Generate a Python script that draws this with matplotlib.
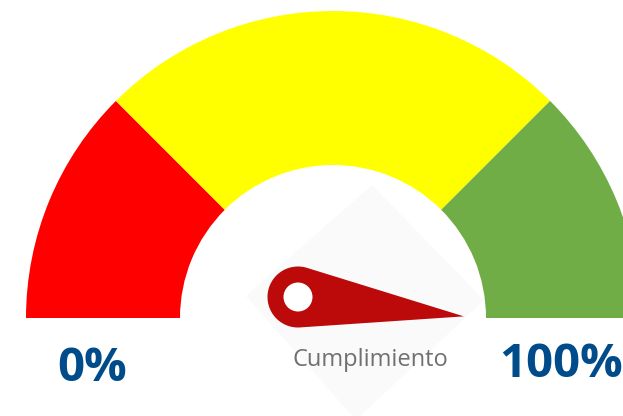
import numpy as np
import matplotlib.pyplot as plt
from matplotlib.patches import Wedge, Polygon, Circle

# gauge bands (percent of the half circle) and their colours
band_limits = [0, 25, 75, 100]
band_colors = ['#FF0000', '#FFFF00', '#70AD47']
needle_value = 103.7
min_label = '0%'
max_label = '100%'
caption = 'Cumplimiento'

W, H = 623, 416
fig = plt.figure(figsize=(W / 100, H / 100), dpi=100)
ax = fig.add_axes([0, 0, 1, 1])
ax.set_xlim(0, W)
ax.set_ylim(0, H)
ax.axis('off')

# pixel coords with y going up
cx, cy = 333, H - 318
r_out, r_in = 307, 153

def val2ang(v):
    return 180 - v / 100 * 180

# faint diamond watermark behind the needle
diamond = Polygon([(372, H - 185), (484, H - 300), (356, H - 420), (246, H - 296)],
                  closed=True, facecolor='#fafafa', edgecolor='none', zorder=0)
ax.add_patch(diamond)

for i in range(len(band_colors)):
    a1 = val2ang(band_limits[i + 1])
    a2 = val2ang(band_limits[i])
    ax.add_patch(Wedge((cx, cy), r_out, a1, a2, width=r_out - r_in,
                       facecolor=band_colors[i], edgecolor='none', zorder=1))

# needle: round base with a hole, tapering to a point
px, py = 298, H - 297
base_r, hole_r, length = 30.5, 14.5, 167
phi = np.deg2rad(val2ang(needle_value))
t = np.arccos(base_r / length)
arc = np.linspace(phi + t, phi + 2 * np.pi - t, 80)
pts = [(px + base_r * np.cos(a), py + base_r * np.sin(a)) for a in arc]
pts.append((px + length * np.cos(phi), py + length * np.sin(phi)))
ax.add_patch(Polygon(pts, closed=True, facecolor='#BC0909', edgecolor='none', zorder=3))
ax.add_patch(Circle((px, py), hole_r, facecolor='white', edgecolor='none', zorder=4))

ax.text(370, H - 366, caption, ha='center', va='baseline', fontsize=17,
        family='Open Sans', color='#707070', zorder=5)
ax.text(57, H - 381, min_label, ha='left', va='baseline', fontsize=34,
        family='Open Sans', fontweight='bold', color='#004C8A', zorder=5)
ax.text(499, H - 377, max_label, ha='left', va='baseline', fontsize=34,
        family='Open Sans', fontweight='bold', color='#004C8A', zorder=5)

fig.savefig('out.png', dpi=100, facecolor='white')
